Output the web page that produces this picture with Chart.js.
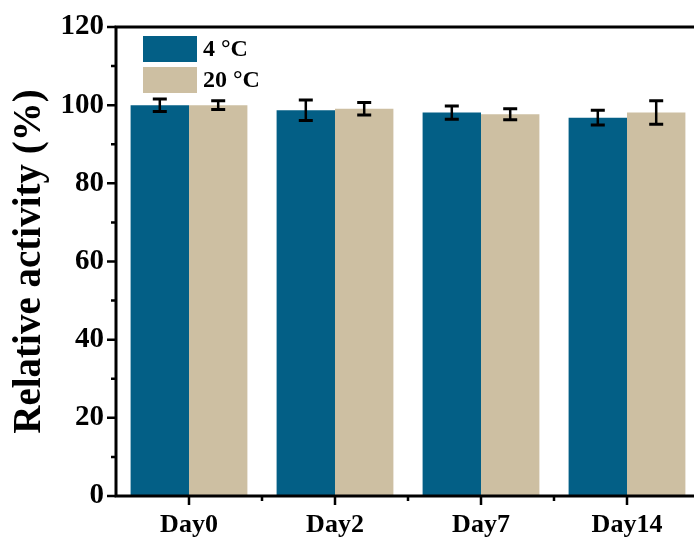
<!DOCTYPE html>
<html>
<head>
<meta charset="utf-8">
<script src="https://cdn.jsdelivr.net/npm/chart.js@4.4.1/dist/chart.umd.min.js"></script>
<style>
  html, body { margin: 0; padding: 0; background: #ffffff; overflow: hidden; }
  #wrap { width: 694px; height: 543px; overflow: hidden; position: relative; }
  #box { width: 720px; height: 543px; position: absolute; left: 0; top: 0; }
</style>
</head>
<body>
<div id="wrap"><div id="box"><canvas id="c"></canvas></div></div>
<script>
const categories = ['Day0', 'Day2', 'Day7', 'Day14'];
const seriesLabels = ['4 \u00B0C', '20 \u00B0C'];
const values4C = [100, 98.7, 98.1, 96.8];
const errors4C = [1.6, 2.6, 1.7, 1.9];
const values20C = [100, 99.1, 97.7, 98.1];
const errors20C = [1.1, 1.6, 1.4, 3.0];
const yMajorTicks = [0, 20, 40, 60, 80, 100, 120];
const yMinorTicks = [10, 30, 50, 70, 90, 110];

const FONT = '"Liberation Serif", "Times New Roman", serif';
const BLUE = '#035f86';
const BEIGE = '#cdbfa2';

const axesPlugin = {
  id: 'axesPlugin',
  afterDatasetsDraw(chart) {
    const ctx = chart.ctx;
    const a = chart.chartArea;
    const xs = chart.scales.x, ys = chart.scales.y;
    ctx.save();
    ctx.strokeStyle = '#000';
    ctx.lineCap = 'butt';
    // error bars
    const errs = [errors4C, errors20C];
    chart.data.datasets.forEach((ds, di) => {
      const meta = chart.getDatasetMeta(di);
      meta.data.forEach((bar, i) => {
        const v = ds.data[i], e = errs[di][i];
        const x = bar.x;
        const yt = ys.getPixelForValue(v + e);
        const yb = ys.getPixelForValue(v - e);
        ctx.lineWidth = 2.5;
        ctx.beginPath();
        ctx.moveTo(x, yt); ctx.lineTo(x, yb);
        ctx.stroke();
        ctx.lineWidth = 3;
        ctx.beginPath();
        ctx.moveTo(x - 7, yt); ctx.lineTo(x + 7, yt);
        ctx.moveTo(x - 7, yb); ctx.lineTo(x + 7, yb);
        ctx.stroke();
      });
    });
    // axis lines
    ctx.lineWidth = 3;
    ctx.beginPath();
    ctx.moveTo(a.left, a.top); ctx.lineTo(a.right + 10, a.top);
    ctx.moveTo(a.left, a.top - 1.5); ctx.lineTo(a.left, a.bottom + 1.5);
    ctx.moveTo(a.left - 1.5, a.bottom); ctx.lineTo(a.right + 10, a.bottom);
    ctx.stroke();
    // y ticks
    ctx.lineWidth = 2.5;
    ctx.beginPath();
    yMajorTicks.forEach(t => {
      const y = ys.getPixelForValue(t);
      ctx.moveTo(a.left - 9, y); ctx.lineTo(a.left, y);
    });
    yMinorTicks.forEach(t => {
      const y = ys.getPixelForValue(t);
      ctx.moveTo(a.left - 5, y); ctx.lineTo(a.left, y);
    });
    // x ticks
    categories.forEach((c, i) => {
      const x = xs.getPixelForValue(i);
      ctx.moveTo(x, a.bottom); ctx.lineTo(x, a.bottom + 9);
      if (i > 0) {
        const xb = (xs.getPixelForValue(i - 1) + x) / 2;
        ctx.moveTo(xb, a.bottom); ctx.lineTo(xb, a.bottom + 5);
      }
    });
    ctx.stroke();
    // legend
    const colors = [BLUE, BEIGE];
    ctx.font = 'bold 24px ' + FONT;
    ctx.textBaseline = 'middle';
    ctx.textAlign = 'left';
    seriesLabels.forEach((lab, i) => {
      const top = 36 + i * 31;
      ctx.fillStyle = colors[i];
      ctx.fillRect(143, top, 54, 26);
      ctx.fillStyle = '#000';
      ctx.fillText(lab, 203, top + 14);
    });
    ctx.restore();
  }
};

new Chart(document.getElementById('c'), {
  type: 'bar',
  data: {
    labels: categories,
    datasets: [
      { label: seriesLabels[0], data: values4C, backgroundColor: BLUE, borderWidth: 0 },
      { label: seriesLabels[1], data: values20C, backgroundColor: BEIGE, borderWidth: 0 }
    ]
  },
  options: {
    responsive: true,
    maintainAspectRatio: false,
    animation: false,
    events: [],
    layout: { padding: { top: 27, right: 20, left: 0, bottom: 0 } },
    datasets: { bar: { categoryPercentage: 0.8, barPercentage: 1.0 } },
    plugins: { legend: { display: false }, tooltip: { enabled: false } },
    scales: {
      x: {
        grid: { display: false, drawTicks: false },
        border: { display: false },
        ticks: { color: '#000', padding: 14, font: { family: FONT, size: 26, weight: 'bold', lineHeight: 1.2 } },
        afterFit(s) { s.height = 47; }
      },
      y: {
        min: 0, max: 120,
        grid: { display: false, drawTicks: false },
        border: { display: false },
        ticks: { stepSize: 20, color: '#000', padding: 12, font: { family: FONT, size: 29, weight: 'bold', lineHeight: 1 } },
        title: {
          display: true, text: 'Relative activity (%)', color: '#000',
          font: { family: FONT, size: 39, weight: 'bold', lineHeight: 1 },
          padding: { top: 10, bottom: 0 }
        },
        afterFit(s) { s.width = 116; }
      }
    }
  },
  plugins: [axesPlugin]
});
</script>
</body>
</html>
